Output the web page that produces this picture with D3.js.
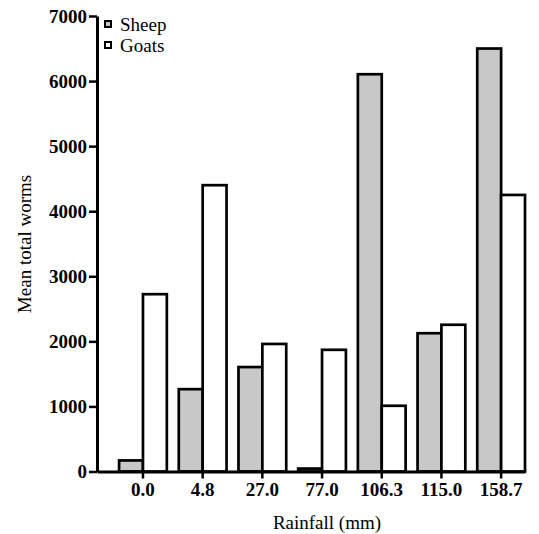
<!DOCTYPE html>
<html>
<head>
<meta charset="utf-8">
<script src="https://cdn.jsdelivr.net/npm/d3@7"></script>
<style>
  body { margin: 0; background: #ffffff; }
</style>
</head>
<body>
<div id="chart"></div>
<script>
// rainfall categories and mean worm counts
const rainfall = ["0.0", "4.8", "27.0", "77.0", "106.3", "115.0", "158.7"];
const sheep = [170, 1265, 1605, 45, 6105, 2125, 6500];
const goats = [2725, 4400, 1960, 1870, 1010, 2255, 4250];
const seriesNames = ["Sheep", "Goats"];
const yTicks = [0, 1000, 2000, 3000, 4000, 5000, 6000, 7000];

const width = 539, height = 534;
const sheepColor = "#c8c8c8";
const goatColor = "#ffffff";
const serif = "'Liberation Serif'";

const svg = d3.select("#chart")
              .append("svg")
              .attr("width", width)
              .attr("height", height);

const x = d3.scaleBand()
            .domain(rainfall)
            .range([97, 525])
            .paddingInner(0.2)
            .paddingOuter(0.185)
            .align(1);

const xs = d3.scaleBand()
             .domain(seriesNames)
             .range([0, x.bandwidth()]);

const y = d3.scaleLinear()
            .domain([0, 7000])
            .range([471.5, 16]);

const rows = rainfall.map((r, i) => ({ rain: r, Sheep: sheep[i], Goats: goats[i] }));

// bars
const group = svg.selectAll()
                 .data(rows)
                 .enter()
                 .append("g")
                 .attr("transform", d => `translate(${x(d.rain)},0)`);

group.selectAll()
     .data(d => seriesNames.map(k => ({ key: k, value: d[k] })))
     .enter()
     .append("rect")
     .attr("x", d => xs(d.key))
     .attr("y", d => y(d.value))
     .attr("width", xs.bandwidth())
     .attr("height", d => y(0) - y(d.value))
     .style("fill", d => d.key === "Sheep" ? sheepColor : goatColor)
     .style("stroke", "#000")
     .style("stroke-width", 2.7);

// axes
const xAxis = svg.append("g")
                 .attr("transform", `translate(0,${y(0)})`)
                 .call(d3.axisBottom(x).tickSize(7).tickSizeOuter(0).tickPadding(4));

const yAxis = svg.append("g")
                 .attr("transform", "translate(97,0)")
                 .call(d3.axisLeft(y).tickValues(yTicks).tickFormat(d3.format("d"))
                         .tickSize(8).tickSizeOuter(0).tickPadding(2));

[xAxis, yAxis].forEach(a => {
  a.attr("font-family", null).attr("font-size", null);
  a.select(".domain").attr("stroke", "#000").attr("stroke-width", 3);
  a.selectAll(".tick line").attr("stroke", "#000").attr("stroke-width", 2.5);
  a.selectAll(".tick text")
   .style("font-family", serif)
   .style("font-size", "19px")
   .style("font-weight", "bold");
});

// axis titles
svg.append("text")
   .attr("x", 327)
   .attr("y", 529)
   .attr("text-anchor", "middle")
   .style("font-family", serif)
   .style("font-size", "19px")
   .text("Rainfall (mm)");

svg.append("text")
   .attr("transform", "translate(31,244) rotate(-90)")
   .attr("text-anchor", "middle")
   .style("font-family", serif)
   .style("font-size", "19px")
   .text("Mean total worms");

// legend
const legend = svg.selectAll()
                  .data(seriesNames)
                  .enter()
                  .append("g")
                  .attr("transform", (d, i) => `translate(105,${21 + i * 21})`);

legend.append("rect")
      .attr("width", 6)
      .attr("height", 6)
      .style("fill", d => d === "Sheep" ? sheepColor : goatColor)
      .style("stroke", "#000")
      .style("stroke-width", 2);

legend.append("text")
      .attr("x", 15)
      .attr("y", 10)
      .style("font-family", serif)
      .style("font-size", "19px")
      .text(d => d);
</script>
</body>
</html>
